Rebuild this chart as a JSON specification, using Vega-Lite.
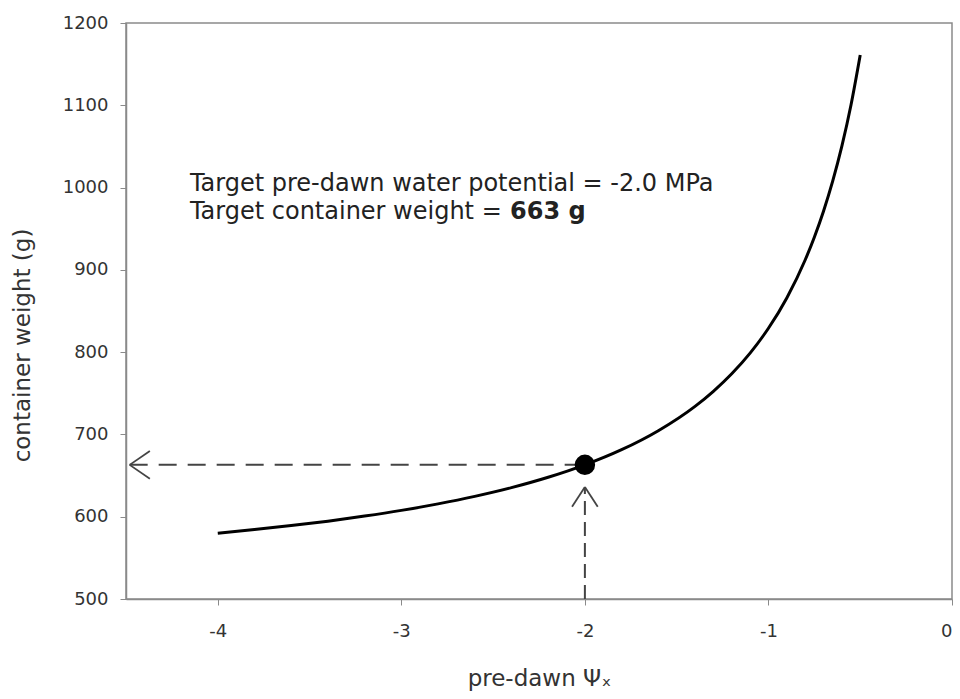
{
  "$schema": "https://vega.github.io/schema/vega-lite/v6.json",
  "autosize": "none",
  "width": 826,
  "height": 576,
  "padding": {"left": 126, "top": 23, "right": 8, "bottom": 100},
  "background": "white",
  "config": {
    "font": "DejaVu Sans",
    "view": {"stroke": "#8a8a8a", "strokeWidth": 1.5},
    "axis": {
      "grid": false,
      "domainColor": "#8a8a8a",
      "domainWidth": 1.5,
      "tickColor": "#8a8a8a",
      "tickSize": 6,
      "labelFont": "DejaVu Sans",
      "labelFontSize": 18,
      "labelColor": "#333333",
      "titleFont": "DejaVu Sans",
      "titleFontSize": 23,
      "titleFontWeight": "normal",
      "titleColor": "#333333"
    }
  },
  "layer": [
    {
      "data": {"values": [
        {"psi": -4.0, "w": 580.0}, {"psi": -3.8, "w": 584.4}, {"psi": -3.6, "w": 589.2},
        {"psi": -3.4, "w": 594.6}, {"psi": -3.2, "w": 600.8}, {"psi": -3.0, "w": 607.7},
        {"psi": -2.8, "w": 615.6}, {"psi": -2.6, "w": 624.7}, {"psi": -2.4, "w": 635.3},
        {"psi": -2.2, "w": 647.9}, {"psi": -2.0, "w": 663.0}, {"psi": -1.8, "w": 681.4},
        {"psi": -1.6, "w": 704.5}, {"psi": -1.4, "w": 734.1}, {"psi": -1.3, "w": 752.4},
        {"psi": -1.2, "w": 773.7}, {"psi": -1.1, "w": 798.8}, {"psi": -1.0, "w": 829.0},
        {"psi": -0.9, "w": 865.9}, {"psi": -0.8, "w": 912.0}, {"psi": -0.75, "w": 939.7},
        {"psi": -0.7, "w": 971.3}, {"psi": -0.65, "w": 1007.8}, {"psi": -0.6, "w": 1050.3},
        {"psi": -0.55, "w": 1100.6}, {"psi": -0.5, "w": 1161.0}
      ]},
      "mark": {"type": "line", "color": "black", "strokeWidth": 3, "interpolate": "monotone"},
      "encoding": {
        "x": {"field": "psi", "type": "quantitative", "scale": {"domain": [-4.5, 0], "nice": false, "zero": false},
              "axis": {"values": [-4, -3, -2, -1, 0], "labelExpr": "datum.value < 0 ? '-' + format(-datum.value, 'd') : '0'", "labelPadding": 17, "titlePadding": 27, "title": "pre-dawn Ψₓ"}},
        "y": {"field": "w", "type": "quantitative", "scale": {"domain": [500, 1200], "nice": false, "zero": false},
              "axis": {"values": [500, 600, 700, 800, 900, 1000, 1100, 1200], "format": "d", "labelPadding": 12, "titlePadding": 28, "titleY": 322, "title": "container weight (g)"}}
      }
    },
    {
      "data": {"values": [{"x1": -4.48, "x2": -2.0, "y1": 663, "y2": 663}]},
      "mark": {"type": "rule", "color": "#444444", "strokeWidth": 2, "strokeDash": [18, 11]},
      "encoding": {
        "x": {"field": "x1", "type": "quantitative"},
        "x2": {"field": "x2"},
        "y": {"field": "y1", "type": "quantitative"},
        "y2": {"field": "y2"}
      }
    },
    {
      "data": {"values": [{"x1": -2.0, "x2": -2.0, "y1": 500, "y2": 636}]},
      "mark": {"type": "rule", "color": "#444444", "strokeWidth": 2, "strokeDash": [14, 7]},
      "encoding": {
        "x": {"field": "x1", "type": "quantitative"},
        "x2": {"field": "x2"},
        "y": {"field": "y1", "type": "quantitative"},
        "y2": {"field": "y2"}
      }
    },
    {
      "data": {"values": [
        {"x1": -4.48, "y1": 663, "x2": -4.37, "y2": 680},
        {"x1": -4.48, "y1": 663, "x2": -4.37, "y2": 646},
        {"x1": -2.0, "y1": 636, "x2": -2.07, "y2": 612},
        {"x1": -2.0, "y1": 636, "x2": -1.93, "y2": 612}
      ]},
      "mark": {"type": "rule", "color": "#444444", "strokeWidth": 1.8},
      "encoding": {
        "x": {"field": "x1", "type": "quantitative"},
        "x2": {"field": "x2"},
        "y": {"field": "y1", "type": "quantitative"},
        "y2": {"field": "y2"}
      }
    },
    {
      "data": {"values": [{"psi": -2.0, "w": 663}]},
      "mark": {"type": "point", "filled": true, "color": "black", "size": 420, "opacity": 1},
      "encoding": {
        "x": {"field": "psi", "type": "quantitative"},
        "y": {"field": "w", "type": "quantitative"}
      }
    },
    {
      "data": {"values": [
        {"psi": -4.152, "w": 1004.3, "label": "Target pre-dawn water potential = -2.0 MPa"},
        {"psi": -4.152, "w": 970.3, "label": "Target container weight = "}
      ]},
      "mark": {"type": "text", "align": "left", "baseline": "middle", "fontSize": 24, "color": "#222222", "font": "DejaVu Sans"},
      "encoding": {
        "x": {"field": "psi", "type": "quantitative"},
        "y": {"field": "w", "type": "quantitative"},
        "text": {"field": "label"}
      }
    },
    {
      "data": {"values": [{"psi": -2.408, "w": 970.3, "label": "663 g"}]},
      "mark": {"type": "text", "align": "left", "baseline": "middle", "fontSize": 24, "fontWeight": "bold", "color": "#222222", "font": "DejaVu Sans"},
      "encoding": {
        "x": {"field": "psi", "type": "quantitative"},
        "y": {"field": "w", "type": "quantitative"},
        "text": {"field": "label"}
      }
    }
  ]
}
